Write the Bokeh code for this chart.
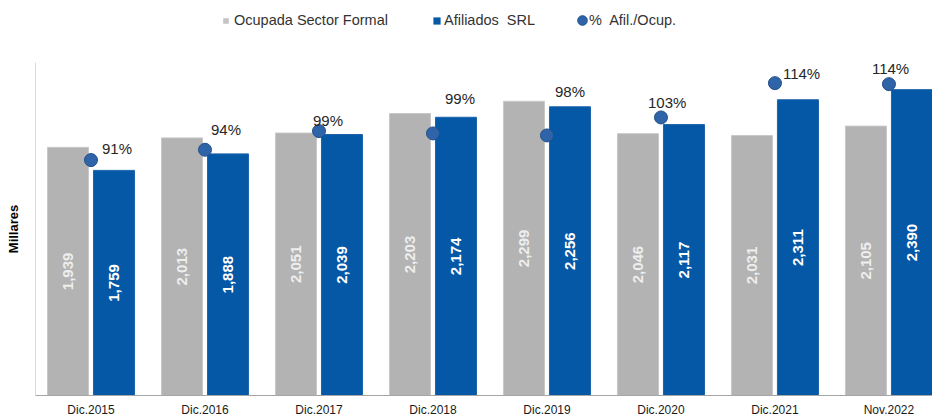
from bokeh.plotting import figure
from bokeh.layouts import column
from bokeh.models import (ColumnDataSource, Range1d, FixedTicker, Legend, LegendItem,
                          LabelSet)
from bokeh.core.properties import value
from bokeh.embed import file_html
from bokeh.resources import INLINE

categories = ["Dic.2015", "Dic.2016", "Dic.2017", "Dic.2018", "Dic.2019",
              "Dic.2020", "Dic.2021", "Nov.2022"]
ocupada = [1939, 2013, 2051, 2203, 2299, 2046, 2031, 2105]
afiliados = [1759, 1888, 2039, 2174, 2256, 2117, 2311, 2390]
pct = [90.7, 93.8, 99.4, 98.7, 98.1, 103.5, 113.8, 113.5]
pct_labels = ["91%", "94%", "99%", "99%", "98%", "103%", "114%", "114%"]
series_names = ["Ocupada Sector Formal", "Afiliados  SRL", "%  Afil./Ocup."]

# manual label placement (pixel offsets from the marker), styling only
pct_dx = [11, 6, -6, 12, 8, -13, 8, -17]
pct_dy = [12, 20, 11, 35, 44, 15, 10, 16]

FONT = "Liberation Sans"
GRAY = "#b3b3b3"
BLUE = "#0558a6"
DOT = "#2f64a8"
DOT_LINE = "#24508a"

idx = list(range(len(categories)))
off = 0.2018
bw = 0.36

src = ColumnDataSource(dict(
    x=idx,
    xg=[i - off for i in idx],
    xb=[i + off for i in idx],
    ocu=ocupada,
    afi=afiliados,
    ocu_mid=[v / 2 for v in ocupada],
    afi_mid=[v / 2 for v in afiliados],
    ocu_txt=[f"{v:,}" for v in ocupada],
    afi_txt=[f"{v:,}" for v in afiliados],
    pct=pct,
    pct_txt=pct_labels,
    dx=pct_dx,
    dy=pct_dy,
))

# ---------------- main chart ----------------
p = figure(width=932, height=363, output_backend="svg", toolbar_location=None,
           x_range=Range1d(-0.487, 7.382), y_range=Range1d(0, 2602),
           min_border_left=35, min_border_right=0, min_border_top=6,
           min_border_bottom=21)
p.extra_y_ranges = {"pct": Range1d(20, 120)}
p.outline_line_color = None
p.grid.visible = False

p.vbar(x="xg", top="ocu", width=bw, source=src, fill_color=GRAY,
       line_color="#c8c8c8", line_width=1)
p.vbar(x="xb", top="afi", width=bw, source=src, fill_color=BLUE,
       line_color="#1d64ad", line_width=1)

p.add_layout(LabelSet(x="xg", y="ocu_mid", text="ocu_txt", source=src, angle=1.5708,
                      text_align="center", text_baseline="middle",
                      text_font=value(FONT), text_font_size="15px",
                      text_font_style="bold", text_color="#eeeeee"))
p.add_layout(LabelSet(x="xb", y="afi_mid", text="afi_txt", source=src, angle=1.5708,
                      text_align="center", text_baseline="middle",
                      text_font=value(FONT), text_font_size="15px",
                      text_font_style="bold", text_color="white"))

p.scatter(x="x", y="pct", y_range_name="pct", source=src, size=13,
          fill_color=DOT, line_color=DOT_LINE, line_width=1)
p.add_layout(LabelSet(x="x", y="pct", y_range_name="pct", text="pct_txt",
                      x_offset="dx", y_offset="dy", source=src,
                      text_align="left", text_baseline="middle",
                      text_font=value(FONT), text_font_size="15px",
                      text_color="#262626"))

p.xaxis.ticker = FixedTicker(ticks=idx)
p.xaxis.major_label_overrides = {i: c for i, c in zip(idx, categories)}
p.xaxis.major_label_text_font = FONT
p.xaxis.major_label_text_font_size = "12px"
p.xaxis.major_label_text_color = "#1a1a1a"
p.xaxis.major_label_standoff = 7
p.xaxis.major_tick_out = 0
p.xaxis.major_tick_in = 0
p.xaxis.minor_tick_line_color = None
p.xaxis.axis_line_color = "#a6a6a6"

p.yaxis.ticker = FixedTicker(ticks=[])
p.yaxis.major_tick_out = 0
p.yaxis.major_tick_in = 0
p.yaxis.major_label_standoff = 0
p.yaxis.minor_tick_line_color = None
p.yaxis.axis_line_color = "#d9d9d9"
p.yaxis.axis_label = "Millares"
p.yaxis.axis_label_text_font = FONT
p.yaxis.axis_label_text_font_size = "13px"
p.yaxis.axis_label_text_font_style = "bold"
p.yaxis.axis_label_text_color = "black"
p.yaxis.axis_label_standoff = 15

# ---------------- legend strip ----------------
leg = figure(width=932, height=56, output_backend="svg", toolbar_location=None,
             x_range=Range1d(0, 1), y_range=Range1d(0, 1),
             min_border_left=0, min_border_right=0, min_border_top=0,
             min_border_bottom=0)
leg.axis.visible = False
leg.grid.visible = False
leg.outline_line_color = None

r_g = leg.vbar(x=[-5], top=[-5], width=0.1, fill_color="#c4c4c4", line_color=None)
r_b = leg.vbar(x=[-5], top=[-5], width=0.1, fill_color=BLUE, line_color=None)
r_d = leg.ellipse(x=[-5], y=[-5], width=10, height=10, width_units="screen",
                  height_units="screen", fill_color=DOT, line_color=DOT_LINE)

common = dict(orientation="horizontal", border_line_color=None,
              background_fill_alpha=0, padding=0, margin=0, label_height=14,
              label_text_font=FONT, label_text_font_size="14.5px",
              label_text_color="#333333")
leg.add_layout(Legend(items=[LegendItem(label=series_names[0], renderers=[r_g])],
                      location=(187, 28), glyph_width=7, glyph_height=7,
                      label_standoff=5, **common), "center")
leg.add_layout(Legend(items=[LegendItem(label=series_names[1], renderers=[r_b])],
                      location=(397, 28), glyph_width=9, glyph_height=9,
                      label_standoff=3, **common), "center")
leg.add_layout(Legend(items=[LegendItem(label=series_names[2], renderers=[r_d])],
                      location=(541, 28), glyph_width=12, glyph_height=12,
                      label_standoff=1, **common), "center")

layout = column(leg, p, spacing=0)
open("out.html", "w").write(file_html(layout, INLINE))
